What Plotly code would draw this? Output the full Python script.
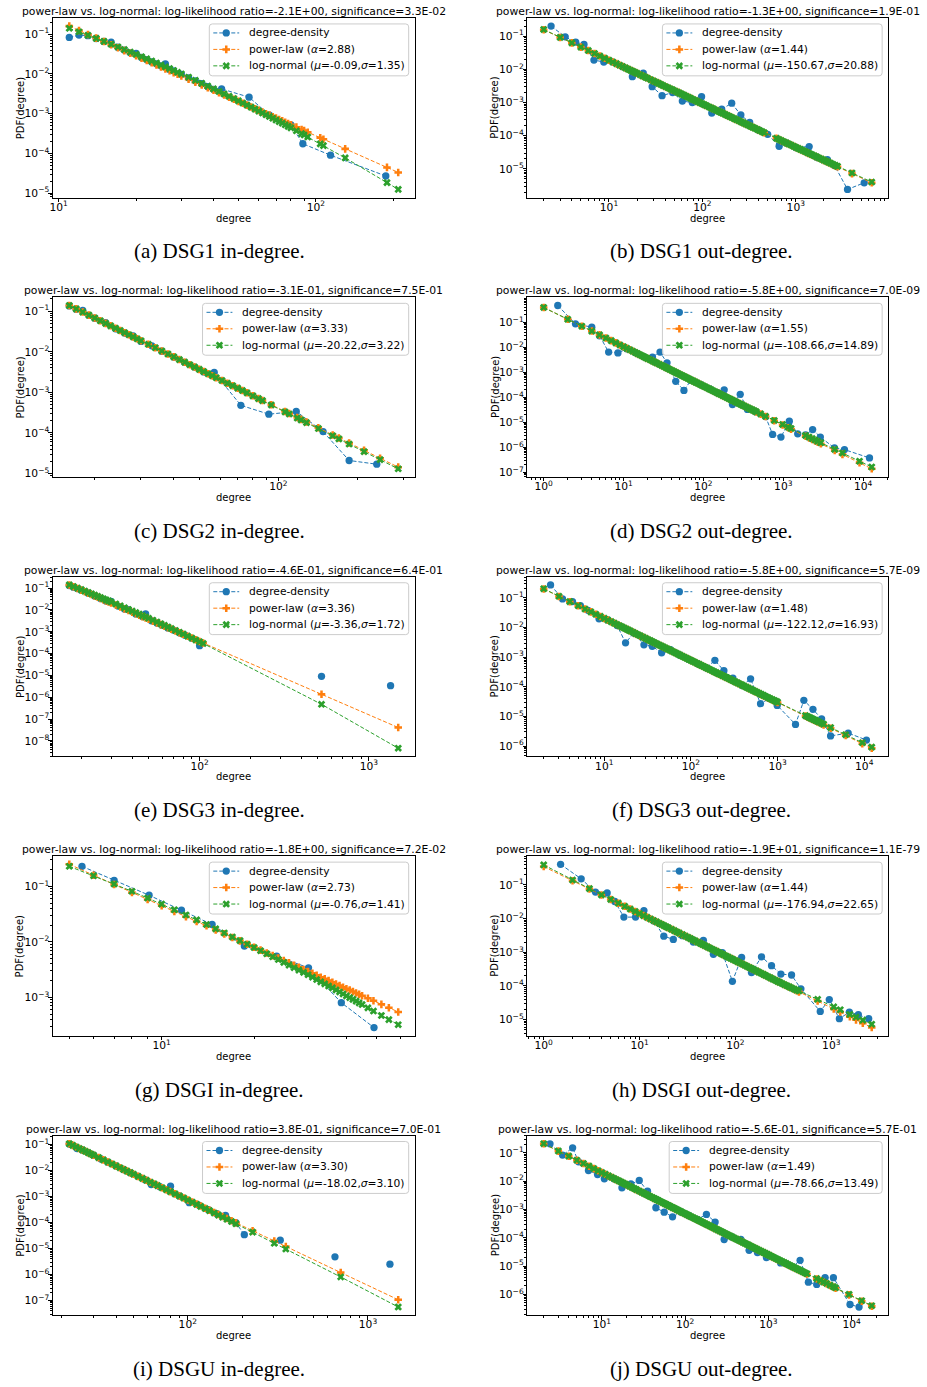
import math
import plotly.graph_objects as go

# ---------------- data ----------------
# (a) DSG1 in-degree
fit_deg_a = [11, 12, 13, 14, 15, 16, 17, 18, 19, 20, 21, 22, 23, 24, 25, 26, 27, 28, 29, 30,
             32, 34, 36, 38, 40, 42, 44, 46, 48, 50, 52, 54, 56, 58, 60, 62, 64, 66, 68, 70,
             72, 74, 76, 78, 80, 84, 88, 90, 93, 104, 107, 130, 189, 209]
pl_a = [0.160, 0.124, 0.0989, 0.0798, 0.0655, 0.0543, 0.0456, 0.0387, 0.0331, 0.0286, 0.0248, 0.0217,
        0.0191, 0.0169, 0.0150, 0.0134, 0.0120, 0.0108, 0.00980, 0.00889,
        0.00738, 0.00620, 0.00526, 0.00450, 0.00388, 0.00337, 0.00295, 0.00259, 0.00230, 0.00204,
        0.00182, 0.00164, 0.00147, 0.00133, 0.00121, 0.00110, 0.00100, 0.000918, 0.000841, 0.000774,
        0.000714, 0.000661, 0.000611, 0.000568, 0.000527,
        0.000458, 0.000401, 0.000376, 0.000342, 0.000248, 0.000228, 0.000130, 4.44e-5, 3.32e-5]
ln_a = [0.141, 0.115, 0.0944, 0.0787, 0.0661, 0.0560, 0.0478, 0.0411, 0.0356, 0.0311, 0.0272, 0.0240,
        0.0212, 0.0189, 0.0168, 0.0151, 0.0136, 0.0122, 0.0110, 0.0100,
        0.00828, 0.00692, 0.00583, 0.00494, 0.00422, 0.00362, 0.00313, 0.00272, 0.00239, 0.00210,
        0.00185, 0.00164, 0.00146, 0.00130, 0.00116, 0.00104, 0.000938, 0.000847, 0.000766, 0.000693,
        0.000631, 0.000575, 0.000524, 0.000480, 0.000440,
        0.000371, 0.000315, 0.000291, 0.000259, 0.000174, 0.000157, 7.71e-5, 1.84e-5, 1.24e-5]
deg_a = [11, 12, 13, 14, 15, 16, 17, 18, 19, 20, 21, 22, 23, 24, 25, 26, 27, 28,
         30, 32, 34, 36, 38, 40, 43, 55, 66, 80, 89, 114, 187]
dens_a = [0.083, 0.095, 0.092, 0.078, 0.066, 0.063, 0.047, 0.040, 0.034, 0.033, 0.026, 0.023, 0.020,
          0.018, 0.016, 0.018, 0.013, 0.012,
          0.0098, 0.0080, 0.0067, 0.0057, 0.0048, 0.0041, 0.0042, 0.0026, 0.00092, 0.00052, 0.000175,
          9.0e-5, 2.7e-5]

# (b) DSG1 out-degree
fit_deg_b = [2, 3, 4, 5, 6, 7, 8, 9,
             10, 11, 12, 13, 14, 15, 16, 17, 18, 19, 20,
             21.5, 23, 24.5, 26, 28, 30, 32, 34, 36, 38,
             40.5, 43, 45.5, 48, 51, 54, 57, 60, 63.5, 67,
             71, 75, 79.5, 84, 89, 94, 99.5, 105, 111, 118,
             125, 132, 140, 148, 156, 165, 175, 185, 196, 207,
             219, 232, 246, 260, 275, 290, 307, 325, 345, 365,
             387, 410, 435, 460,
             620, 660, 700, 745, 790, 840, 890, 945, 1000, 1060,
             1120, 1190, 1260, 1335, 1410, 1490, 1580, 1670, 1770, 1880,
             1990, 2110, 2230, 2360, 2500, 2650, 2800,
             4000, 6500]
pl_b = [0.155, 0.0912, 0.0625, 0.0466, 0.0367, 0.0300, 0.0251, 0.0215,
        0.0187, 0.01656, 0.0148, 0.01328, 0.0121, 0.01101, 0.0101, 0.00933, 0.00867, 0.00807, 0.00755,
        0.00687, 0.00628, 0.00578, 0.00535, 0.00485, 0.00444, 0.00407, 0.00377, 0.00349, 0.00324,
        0.00299, 0.00277, 0.00256, 0.00239, 0.00221, 0.00205, 0.00191, 0.00178, 0.00166, 0.00154,
        0.00143, 0.00133, 0.00123, 0.00115, 0.00106, 0.000988, 0.000918, 0.000855, 0.000795, 0.000733,
        0.000681, 0.000632, 0.000586, 0.000545, 0.000508, 0.000473, 0.000438, 0.000406, 0.000377, 0.000351,
        0.000326, 0.000303, 0.000280, 0.000260, 0.000242, 0.000225, 0.000209, 0.000194, 0.000179, 0.000167,
        0.000154, 0.000143, 0.000132, 0.000123,
        8.32e-5, 7.66e-5, 7.08e-5, 6.53e-5, 6.04e-5, 5.57e-5, 5.18e-5, 4.78e-5, 4.44e-5, 4.11e-5,
        3.83e-5, 3.53e-5, 3.28e-5, 3.03e-5, 2.82e-5, 2.63e-5, 2.43e-5, 2.26e-5, 2.09e-5, 1.94e-5,
        1.79e-5, 1.66e-5, 1.55e-5, 1.44e-5, 1.33e-5, 1.23e-5, 1.15e-5,
        7.18e-6, 3.80e-6]
ln_b = [0.158, 0.0915, 0.0625, 0.0466, 0.0367, 0.0300, 0.0251, 0.0215,
        0.0187, 0.01656, 0.0148, 0.01328, 0.0121, 0.01101, 0.0101, 0.00933, 0.00867, 0.00807, 0.00755,
        0.00687, 0.00628, 0.00578, 0.00535, 0.00485, 0.00444, 0.00407, 0.00377, 0.00349, 0.00324,
        0.00299, 0.00277, 0.00256, 0.00239, 0.00221, 0.00205, 0.00191, 0.00178, 0.00166, 0.00154,
        0.00143, 0.00133, 0.00123, 0.00115, 0.00106, 0.000988, 0.000918, 0.000855, 0.000795, 0.000733,
        0.000681, 0.000632, 0.000586, 0.000545, 0.000508, 0.000473, 0.000438, 0.000406, 0.000377, 0.000351,
        0.000326, 0.000303, 0.000280, 0.000260, 0.000242, 0.000225, 0.000209, 0.000194, 0.000179, 0.000167,
        0.000154, 0.000143, 0.000132, 0.000123,
        8.35e-5, 7.70e-5, 7.12e-5, 6.57e-5, 6.08e-5, 5.61e-5, 5.22e-5, 4.82e-5, 4.48e-5, 4.15e-5,
        3.87e-5, 3.57e-5, 3.32e-5, 3.07e-5, 2.86e-5, 2.67e-5, 2.47e-5, 2.30e-5, 2.13e-5, 1.98e-5,
        1.83e-5, 1.70e-5, 1.59e-5, 1.48e-5, 1.37e-5, 1.27e-5, 1.19e-5,
        7.5e-6, 4.0e-6]
deg_b = [2.4, 3.4, 4.4, 5.4, 6.9, 8.8, 11, 14, 17.8, 23.3, 29, 37, 48, 61, 78, 98, 126, 161, 206,
         258, 321, 400, 500, 663, 800, 1000, 1390, 1700, 2180, 2600, 3580, 5400]
dens_b = [0.20, 0.095, 0.066, 0.056, 0.019, 0.0166, 0.0165, 0.012, 0.0060, 0.0076, 0.0030, 0.0016,
          0.0020, 0.0011, 0.0010, 0.0015, 0.00048, 0.00063, 0.00095, 0.00042, 0.00025, 0.000148,
          0.000110, 4.8e-5, 5.9e-5, 4.4e-5, 4.7e-5, 2.2e-5, 1.9e-5, 1.26e-5, 2.4e-6, 3.8e-6]

# (c) DSG2 in-degree
fit_deg_c = [16, 17, 18, 19, 20, 21, 22, 23, 24, 25, 26, 27, 28, 29, 30, 32, 34, 36, 38, 40, 42, 44,
             46, 48, 50, 52, 54, 56, 58, 61, 64, 67, 70, 73, 76, 80, 84, 87, 94, 106, 110, 118, 122,
             128, 142, 161, 170, 186, 212, 244, 286]
pl_c = [0.138, 0.114, 0.0951, 0.0800, 0.0681, 0.0582, 0.0502, 0.0436, 0.0381, 0.0335, 0.0295, 0.0262,
        0.0233, 0.0209, 0.0187,
        0.0153, 0.0126, 0.0105, 0.00883, 0.00750, 0.00643, 0.00555, 0.00481, 0.00421, 0.00369, 0.00326,
        0.00289, 0.00258, 0.00230,
        0.00196, 0.00168, 0.00146, 0.00127, 0.00111, 0.000975,
        0.000828, 0.000710, 0.000634, 0.000497,
        0.000339, 0.000301, 0.000240, 0.000216, 0.000186, 0.000134, 8.96e-5, 7.54e-5, 5.66e-5, 3.73e-5,
        2.39e-5, 1.44e-5]
ln_c = [0.138, 0.114, 0.0951, 0.0800, 0.0681, 0.0582, 0.0502, 0.0436, 0.0381, 0.0335, 0.0295, 0.0262,
        0.0233, 0.0209, 0.0187,
        0.0153, 0.0126, 0.0105, 0.00883, 0.00750, 0.00643, 0.00555, 0.00481, 0.00421, 0.00369, 0.00326,
        0.00289, 0.00258, 0.00230,
        0.00196, 0.00168, 0.00146, 0.00127, 0.00111, 0.000973,
        0.000819, 0.000700, 0.000625, 0.000490,
        0.000331, 0.000294, 0.000234, 0.000210, 0.000180, 0.000129, 8.56e-5, 7.17e-5, 5.34e-5, 3.48e-5,
        2.21e-5, 1.31e-5]
deg_c = [16, 17, 18, 19, 20, 22, 24, 26, 28, 30, 33, 36, 40, 44, 48, 52, 57, 72, 92, 117, 148, 186, 237]
dens_c = [0.135, 0.112, 0.104, 0.079, 0.067, 0.052, 0.037, 0.029, 0.0245, 0.018, 0.014, 0.0103,
          0.0074, 0.0055, 0.0042, 0.0032, 0.0031, 0.00048, 0.00029, 0.00034, 0.000108, 2.1e-5, 1.7e-5]

# (d) DSG2 out-degree
fit_deg_d = [1, 2, 3, 4, 5, 6, 7, 8, 9,
             10, 11, 12, 13, 14, 15, 16, 17, 18, 19, 20,
             21.5, 23, 24.5, 26, 28, 30, 32, 34, 36, 38,
             40.5, 43, 45.5, 48, 51, 54, 57, 60, 63.5, 67,
             71, 75, 79.5, 84, 89, 94, 99.5, 105, 111, 118,
             125, 132, 140, 148, 156, 165, 175, 185, 196, 207,
             219, 232, 246, 260, 275, 290, 307, 325, 345, 365,
             387, 410, 435, 460,
             520, 600, 770, 980, 1150, 1250,
             1900, 2100, 2300, 2500, 2700, 2950,
             4400, 5500, 9000, 12800]
pl_d = [0.393, 0.132, 0.0700, 0.0447, 0.0315, 0.0237, 0.0186, 0.0151, 0.0125,
        0.0106, 0.00912, 0.00798, 0.00702, 0.00625, 0.00560, 0.00507, 0.00460, 0.00421, 0.00386, 0.00356,
        0.00318, 0.00286, 0.00259, 0.00236, 0.00210, 0.00189, 0.00171, 0.00155, 0.00142, 0.00130,
        0.00118, 0.00107, 0.000982, 0.000903, 0.000820, 0.000749, 0.000689, 0.000636, 0.000582, 0.000535,
        0.000488, 0.000448, 0.000409, 0.000375, 0.000342, 0.000314, 0.000287, 0.000265, 0.000242, 0.000220,
        0.000201, 0.000184, 0.000168, 0.000154, 0.000142, 0.000130, 0.000118, 0.000109, 9.91e-5, 9.10e-5,
        8.33e-5, 7.63e-5, 6.94e-5, 6.36e-5, 5.82e-5, 5.37e-5, 4.90e-5, 4.48e-5, 4.08e-5, 3.74e-5,
        3.40e-5, 3.12e-5, 2.84e-5, 2.60e-5,
        2.14e-5, 1.72e-5, 1.16e-5, 7.91e-6, 6.15e-6, 5.41e-6,
        2.80e-6, 2.39e-6, 2.07e-6, 1.82e-6, 1.62e-6, 1.40e-6,
        7.49e-7, 5.29e-7, 2.44e-7, 1.40e-7]
ln_d = [0.393, 0.132, 0.0700, 0.0447, 0.0315, 0.0237, 0.0186, 0.0151, 0.0125,
        0.0106, 0.00912, 0.00798, 0.00702, 0.00625, 0.00560, 0.00507, 0.00460, 0.00421, 0.00386, 0.00356,
        0.00318, 0.00286, 0.00259, 0.00236, 0.00210, 0.00189, 0.00171, 0.00155, 0.00142, 0.00130,
        0.00118, 0.00107, 0.000982, 0.000903, 0.000820, 0.000749, 0.000689, 0.000636, 0.000582, 0.000535,
        0.000488, 0.000448, 0.000409, 0.000375, 0.000342, 0.000314, 0.000287, 0.000265, 0.000242, 0.000220,
        0.000201, 0.000184, 0.000168, 0.000154, 0.000142, 0.000130, 0.000118, 0.000109, 9.91e-5, 9.10e-5,
        8.33e-5, 7.63e-5, 6.94e-5, 6.36e-5, 5.82e-5, 5.37e-5, 4.92e-5, 4.51e-5, 4.12e-5, 3.78e-5,
        3.44e-5, 3.16e-5, 2.89e-5, 2.65e-5,
        2.19e-5, 1.76e-5, 1.20e-5, 8.26e-6, 6.48e-6, 5.72e-6,
        3.01e-6, 2.59e-6, 2.25e-6, 1.99e-6, 1.77e-6, 1.54e-6,
        8.40e-7, 5.99e-7, 2.81e-7, 1.65e-7]
deg_d = [1.5, 2.5, 4, 5, 6.5, 8.5, 11, 14, 18, 23, 28.6, 35, 45, 57, 70, 93, 120, 150, 182, 231, 289,
         356, 450, 600, 735, 935, 1190, 1515, 1900, 2330, 2910, 4370, 5830, 12000]
dens_d = [0.47, 0.087, 0.064, 0.029, 0.0065, 0.0060, 0.00875, 0.0062, 0.0042, 0.0041, 0.0065, 0.0024,
          0.00044, 0.00019, 0.00049, 0.00032, 0.00022, 0.000154, 0.00020, 5.2e-5, 0.000133, 3.3e-5,
          2.7e-5, 1.7e-5, 3.3e-6, 2.6e-6, 1.12e-5, 3.5e-6, 3.15e-6, 5.2e-6, 2.6e-6, 9.5e-7, 8.2e-7, 3.8e-7]

# (e) DSG3 in-degree
fit_deg_e = [17, 18, 19, 20, 21, 22, 23, 24, 25, 26, 27, 28, 29, 30, 32, 34, 36, 38, 40, 42, 44, 46,
             48, 50, 53, 56, 59, 62, 65, 68, 72, 76, 80, 85, 90, 95, 100, 105, 525, 1490]
pl_e = [0.140, 0.115, 0.0959, 0.0809, 0.0686, 0.0586, 0.0506, 0.0438, 0.0382, 0.0335, 0.0295, 0.0261,
        0.0232, 0.0207,
        0.0167, 0.0136, 0.0112, 0.00935, 0.00787, 0.00668, 0.00571, 0.00492, 0.00427, 0.00372,
        0.00305, 0.00254, 0.00213, 0.00180, 0.00154, 0.00132,
        0.00109, 0.000912, 0.000767, 0.000626, 0.000516, 0.000431, 0.000362, 0.000308,
        1.38e-6, 4.14e-8]
ln_e = [0.140, 0.117, 0.0995, 0.0855, 0.0731, 0.0630, 0.0547, 0.0476, 0.0419, 0.0369, 0.0326, 0.0290,
        0.0259, 0.0232,
        0.0187, 0.0153, 0.0126, 0.0105, 0.00887, 0.00752, 0.00641, 0.00552, 0.00478, 0.00415,
        0.00339, 0.00280, 0.00233, 0.00196, 0.00166, 0.00141,
        0.00115, 0.000948, 0.000789, 0.000634, 0.000516, 0.000423, 0.000350, 0.000292,
        4.79e-7, 4.68e-9]
deg_e = [17, 18, 19, 20, 22, 24, 26, 28, 30, 33, 36, 38, 42, 46, 48, 52, 56, 60, 65, 70, 76, 82, 90,
         100, 200, 525, 900, 1343]
dens_e = [0.13, 0.11, 0.095, 0.08, 0.058, 0.043, 0.033, 0.026, 0.0245, 0.015, 0.011, 0.0104, 0.0066,
          0.0050, 0.0066, 0.0032, 0.0025, 0.0020, 0.0015, 0.0012, 0.00090, 0.0007, 0.00050, 0.000232,
          None, 9.1e-6, None, 3.4e-6]

# (f) DSG3 out-degree
fit_deg_f = [2, 3, 4, 5, 6, 7, 8, 9,
             10, 11, 12, 13, 14, 15, 16, 17, 18, 19, 20,
             21.5, 23, 24.5, 26, 28, 30, 32, 34, 36, 38,
             40.5, 43, 45.5, 48, 51, 54, 57, 60, 63.5, 67,
             71, 75, 79.5, 84, 89, 94, 99.5, 105, 111, 118,
             125, 132, 140, 148, 156, 165, 175, 185, 196, 207,
             219, 232, 246, 260, 275, 290, 307, 325, 345, 365,
             387, 410, 435, 460,
             490, 520, 550, 580, 615, 650, 690, 730, 775, 820,
             870, 920, 960, 1000,
             2100, 2200, 2300, 2400, 2500, 2620, 2750, 2870, 3000, 3200,
             3400,
             4100, 6100, 9500, 12200]
pl_f = [0.200, 0.112, 0.0746, 0.0543, 0.0420, 0.0337, 0.0279, 0.0236,
        0.0203, 0.01775, 0.0157, 0.01400, 0.0126, 0.01143, 0.0104, 0.00957, 0.00883, 0.00817, 0.00760,
        0.00686, 0.00622, 0.00570, 0.00524, 0.00471, 0.00428, 0.00390, 0.00359, 0.00330, 0.00305,
        0.00279, 0.00257, 0.00237, 0.00220, 0.00201, 0.00186, 0.00172, 0.00160, 0.00148, 0.00137,
        0.00126, 0.00116, 0.00107, 0.000993, 0.000914, 0.000845, 0.000780, 0.000723, 0.000668, 0.000612,
        0.000564, 0.000521, 0.000481, 0.000445, 0.000412, 0.000381, 0.000350, 0.000324, 0.000298, 0.000275,
        0.000255, 0.000235, 0.000216, 0.000200, 0.000185, 0.000171, 0.000158, 0.000145, 0.000134, 0.000123,
        0.000114, 0.000104, 9.62e-5, 8.87e-5,
        8.12e-5, 7.46e-5, 6.89e-5, 6.40e-5, 5.88e-5, 5.43e-5, 5.00e-5, 4.61e-5, 4.24e-5, 3.91e-5,
        3.60e-5, 3.32e-5, 3.13e-5, 2.95e-5,
        1.03e-5, 9.64e-6, 9.04e-6, 8.51e-6, 8.04e-6, 7.52e-6, 7.03e-6, 6.61e-6, 6.21e-6, 5.66e-6,
        5.20e-6,
        3.98e-6, 2.27e-6, 1.21e-6, 8.49e-7]
ln_f = [0.203, 0.113, 0.0750, 0.0545, 0.0421, 0.0338, 0.0280, 0.0237,
        0.0204, 0.01784, 0.0158, 0.01407, 0.0127, 0.01149, 0.0105, 0.00962, 0.00888, 0.00821, 0.00764,
        0.00689, 0.00625, 0.00573, 0.00527, 0.00473, 0.00430, 0.00392, 0.00361, 0.00332, 0.00306,
        0.00280, 0.00258, 0.00238, 0.00221, 0.00203, 0.00187, 0.00174, 0.00161, 0.00149, 0.00138,
        0.00127, 0.00117, 0.00108, 0.000997, 0.000923, 0.000849, 0.000788, 0.000726, 0.000675, 0.000615,
        0.000570, 0.000523, 0.000486, 0.000447, 0.000416, 0.000383, 0.000354, 0.000326, 0.000301, 0.000277,
        0.000259, 0.000237, 0.000219, 0.000202, 0.000188, 0.000173, 0.000160, 0.000147, 0.000136, 0.000125,
        0.000116, 0.000106, 9.76e-5, 9.02e-5,
        8.28e-5, 7.60e-5, 7.04e-5, 6.53e-5, 6.02e-5, 5.55e-5, 5.13e-5, 4.72e-5, 4.35e-5, 4.01e-5,
        3.70e-5, 3.41e-5, 3.22e-5, 3.04e-5,
        1.07e-5, 1.00e-5, 9.40e-6, 8.85e-6, 8.38e-6, 7.84e-6, 7.35e-6, 6.91e-6, 6.51e-6, 5.93e-6,
        5.47e-6,
        4.21e-6, 2.42e-6, 1.30e-6, 9.20e-7]
deg_f = [2.4, 3.3, 4.3, 5.3, 6.5, 8.7, 11, 14.1, 17.6, 22, 28.7, 35.8, 45.9, 58, 75, 95, 120, 150, 189,
         240, 305, 390, 488, 636, 800, 990, 1610, 2010, 2560, 3220, 4090, 6530, 10600]
dens_f = [0.274, 0.092, 0.075, 0.055, 0.038, 0.0196, 0.018, 0.0117, 0.00304, 0.0066, 0.0026, 0.00234,
          0.0014, 0.0018, 0.00116, 0.00083, 0.0006, 0.00044, 0.00078, 0.00035, 0.000195, 0.00011,
          0.000186, 2.7e-5, 4.0e-5, 2.35e-5, 5.4e-6, 3.5e-5, 1.74e-5, 8.3e-6, 2.2e-6, 2.75e-6, 1.6e-6]

# (g) DSGI in-degree
fit_deg_g = [5, 6, 7, 8, 9, 10, 11, 12, 13, 14, 15, 16, 17, 18, 19, 20, 21, 22, 23, 24, 25, 26, 27,
             28, 29, 30, 31, 32, 33, 34, 35, 36, 37, 38, 39, 40, 41, 42, 43, 44, 45, 47, 49, 52, 55, 59]
pl_g = [0.249, 0.158, 0.108, 0.0776, 0.0579, 0.0446, 0.0352, 0.0284, 0.0232, 0.0194, 0.0163, 0.0139,
        0.0120, 0.0104, 0.00906, 0.00798, 0.00708, 0.00631, 0.00564, 0.00508, 0.00459, 0.00417,
        0.00379, 0.00347, 0.00318, 0.00292, 0.00270, 0.00249, 0.00230, 0.00215, 0.00200, 0.00186,
        0.00174, 0.00163, 0.00152, 0.00143, 0.00135, 0.00127, 0.00120, 0.00113, 0.00107,
        0.000960, 0.000867, 0.000747, 0.000650, 0.000546]
ln_g = [0.229, 0.155, 0.110, 0.0813, 0.0614, 0.0478, 0.0378, 0.0304, 0.0248, 0.0205, 0.0171, 0.0144,
        0.0122, 0.0105, 0.00906, 0.00789, 0.00692, 0.00610, 0.00538, 0.00480, 0.00427, 0.00380,
        0.00342, 0.00309, 0.00281, 0.00255, 0.00231, 0.00209, 0.00190, 0.00175, 0.00160, 0.00148,
        0.00136, 0.00125, 0.00115, 0.00106, 0.000986, 0.000920, 0.000853, 0.000793, 0.000741,
        0.000646, 0.000566, 0.000471, 0.000396, 0.000321]
deg_g = [5.5, 7, 9.1, 11.6, 14.6, 18.6, 23.7, 30.1, 38.5, 49.2]
dens_g = [0.229, 0.128, 0.069, 0.037, 0.0205, 0.0084, 0.0055, 0.0034, 0.0008, 0.000285]

# (h) DSGI out-degree
fit_deg_h = [1, 2, 3, 4, 5, 6, 7, 8, 9,
             10, 11, 12, 13, 14, 15, 16, 17, 18, 19, 20,
             21.5, 23, 24.5, 26, 28, 30, 32, 34, 36, 38,
             40.5, 43, 45.5, 48, 51, 54, 57, 60, 63.5, 67,
             71, 75, 79.5, 84, 89, 94, 99.5, 105, 111, 118,
             125, 132, 140, 148, 156, 165, 175, 185, 196, 207,
             219, 232, 246, 260, 275, 290, 307, 325, 345, 365,
             387, 410, 435, 460,
             720, 1060, 1240, 1560, 1810, 2130, 2640]
pl_h = [0.347, 0.132, 0.0750, 0.0501, 0.0367, 0.0285, 0.0230, 0.0191, 0.0162,
        0.0140, 0.01222, 0.0108, 0.00968, 0.00873, 0.00793, 0.00725, 0.00667, 0.00615, 0.00570, 0.00531,
        0.00480, 0.00437, 0.00400, 0.00368, 0.00332, 0.00302, 0.00275, 0.00254, 0.00234, 0.00217,
        0.00198, 0.00183, 0.00169, 0.00157, 0.00144, 0.00133, 0.00123, 0.00115, 0.00106, 0.000984,
        0.000906, 0.000840, 0.000774, 0.000718, 0.000662, 0.000614, 0.000566, 0.000526, 0.000486, 0.000447,
        0.000412, 0.000381, 0.000352, 0.000326, 0.000303, 0.000280, 0.000258, 0.000239, 0.000220, 0.000204,
        0.000188, 0.000174, 0.000160, 0.000148, 0.000137, 0.000128, 0.000118, 0.000109, 1.00e-4, 9.25e-5,
        8.51e-5, 7.85e-5, 7.23e-5, 6.68e-5,
        3.58e-5, 2.09e-5, 1.68e-5, 1.22e-5, 9.89e-6, 7.89e-6, 5.83e-6]
ln_h = [0.389, 0.138, 0.0767, 0.0501, 0.0367, 0.0285, 0.0230, 0.0191, 0.0162,
        0.0140, 0.01222, 0.0108, 0.00968, 0.00873, 0.00793, 0.00725, 0.00667, 0.00615, 0.00570, 0.00531,
        0.00480, 0.00437, 0.00400, 0.00368, 0.00332, 0.00302, 0.00275, 0.00254, 0.00234, 0.00217,
        0.00198, 0.00183, 0.00169, 0.00157, 0.00144, 0.00133, 0.00123, 0.00115, 0.00106, 0.000984,
        0.000906, 0.000840, 0.000774, 0.000718, 0.000662, 0.000614, 0.000566, 0.000526, 0.000486, 0.000447,
        0.000412, 0.000381, 0.000352, 0.000326, 0.000303, 0.000280, 0.000258, 0.000239, 0.000220, 0.000204,
        0.000188, 0.000174, 0.000160, 0.000148, 0.000137, 0.000128, 0.000118, 0.000109, 1.01e-4, 9.40e-5,
        8.66e-5, 8.03e-5, 7.55e-5, 7.16e-5,
        4.02e-5, 2.40e-5, 1.97e-5, 1.43e-5, 1.19e-5, 9.70e-6, 7.34e-6]
deg_h = [1.5, 2.46, 3.47, 4.59, 5.52, 6.86, 9.08, 11.1, 14.1, 17.9, 22.5, 28, 36.4, 46.3, 58.9, 73,
         93, 116, 147, 187, 238, 298, 385, 482, 767, 953, 1213, 1543, 1914, 2455]
dens_h = [0.405, 0.150, 0.061, 0.057, 0.032, 0.011, 0.011, 0.0172, 0.0085, 0.0030, 0.0024, 0.0031,
          0.0020, 0.00225, 0.00087, 0.00098, 0.000137, 0.0007, 0.00025, 0.00073, 0.0004, 0.000225,
          0.000211, 8.2e-5, 1.76e-5, 3.96e-5, 1.07e-5, 1.68e-5, 1.4e-5, 1.07e-5]

# (i) DSGU in-degree
fit_deg_i = [22, 23, 24, 25, 26, 27, 28, 29, 30, 32, 34, 36, 38, 40, 42, 44, 46, 48, 50, 53, 56, 59,
             62, 65, 68, 72, 76, 80, 85, 90, 95, 100, 106, 112, 118, 125, 132, 140, 148, 156, 165,
             175, 185, 229, 302, 350, 706, 1472]
pl_i = [0.108, 0.0933, 0.0811, 0.0710, 0.0624, 0.0551, 0.0489, 0.0436, 0.0389,
        0.0315, 0.0258, 0.0214, 0.0179, 0.0151, 0.0129, 0.0110, 0.00953, 0.00830, 0.00724,
        0.00598, 0.00499, 0.00421, 0.00357, 0.00306, 0.00264,
        0.00218, 0.00183, 0.00155, 0.00127, 0.00105, 0.000878, 0.000741,
        0.000612, 0.000511, 0.000430, 0.000356, 0.000297, 0.000245, 0.000204, 0.000172, 0.000143,
        0.000118, 9.80e-5, 4.85e-5, 1.95e-5, 1.20e-5, 1.19e-6, 1.07e-7]
ln_i = [0.108, 0.0933, 0.0811, 0.0710, 0.0624, 0.0551, 0.0489, 0.0436, 0.0389,
        0.0315, 0.0258, 0.0214, 0.0179, 0.0151, 0.0129, 0.0110, 0.00953, 0.00830, 0.00724,
        0.00598, 0.00499, 0.00421, 0.00357, 0.00306, 0.00264,
        0.00218, 0.00183, 0.00155, 0.00127, 0.00105, 0.000878, 0.000733,
        0.000602, 0.000500, 0.000419, 0.000345, 0.000286, 0.000234, 0.000193, 0.000162, 0.000133,
        0.000109, 8.94e-5, 4.27e-5, 1.59e-5, 9.53e-6, 8.04e-7, 5.62e-8]
deg_i = [22, 24.3, 26, 28, 30, 33, 36, 40, 44, 48, 53, 58, 62.7, 70, 80.2, 90, 102, 115, 130, 145,
         162, 185, 206, 260, 326, 500, 656, 1000, 1324]
dens_i = [0.105, 0.070, 0.062, 0.049, 0.039, 0.028, 0.021, 0.015, 0.011, 0.0083, 0.0060, 0.0044,
          0.0029, 0.0024, 0.0025, 0.00105, 0.00058, 0.00047, 0.00031, 0.00022, 0.00019, 9.8e-5,
          3.4e-5, None, 2.1e-5, None, 4.8e-6, None, 2.5e-6]

# (j) DSGU out-degree
fit_deg_j = [2, 3, 4, 5, 6, 7, 8, 9,
             10, 11, 12, 13, 14, 15, 16, 17, 18, 19, 20,
             21.5, 23, 24.5, 26, 28, 30, 32, 34, 36, 38,
             40.5, 43, 45.5, 48, 51, 54, 57, 60, 63.5, 67,
             71, 75, 79.5, 84, 89, 94, 99.5, 105, 111, 118,
             125, 132, 140, 148, 156, 165, 175, 185, 196, 207,
             219, 232, 246, 260, 275, 290, 307, 325, 345, 365,
             387, 410, 435, 460,
             490, 520, 550, 580, 615, 650, 690, 730, 775, 820,
             870, 920, 975, 1030, 1095, 1160, 1230, 1300, 1380, 1460,
             1550, 1640, 1740, 1840, 1950, 2060, 2185, 2310, 2450, 2590,
             2745, 2900,
             3800, 4200, 4600, 5000, 5500, 6000, 6400,
             9300, 13200, 17400]
pl_j = [0.208, 0.115, 0.0759, 0.0548, 0.0421, 0.0337, 0.0277, 0.0233,
        0.0200, 0.01742, 0.0153, 0.01365, 0.0123, 0.01109, 0.0101, 0.00925, 0.00851, 0.00786, 0.00730,
        0.00657, 0.00594, 0.00543, 0.00498, 0.00447, 0.00405, 0.00368, 0.00337, 0.00310, 0.00286,
        0.00261, 0.00240, 0.00221, 0.00204, 0.00187, 0.00172, 0.00159, 0.00148, 0.00136, 0.00126,
        0.00115, 0.00107, 0.000979, 0.000906, 0.000831, 0.000767, 0.000706, 0.000653, 0.000603, 0.000551,
        0.000507, 0.000468, 0.000430, 0.000397, 0.000367, 0.000339, 0.000310, 0.000287, 0.000264, 0.000243,
        0.000224, 0.000206, 0.000189, 0.000175, 0.000161, 0.000149, 0.000137, 0.000126, 0.000116, 0.000107,
        9.79e-5, 8.99e-5, 8.26e-5, 7.60e-5,
        6.95e-5, 6.37e-5, 5.87e-5, 5.44e-5, 4.99e-5, 4.60e-5, 4.22e-5, 3.89e-5, 3.56e-5, 3.28e-5,
        3.01e-5, 2.77e-5, 2.55e-5, 2.36e-5, 2.16e-5, 1.99e-5, 1.82e-5, 1.68e-5, 1.54e-5, 1.42e-5,
        1.30e-5, 1.20e-5, 1.10e-5, 1.01e-5, 9.31e-6, 8.59e-6, 7.89e-6, 7.26e-6, 6.68e-6, 6.17e-6,
        5.66e-6, 5.23e-6,
        3.52e-6, 3.05e-6, 2.67e-6, 2.37e-6, 2.06e-6, 1.82e-6, 1.65e-6,
        9.62e-7, 5.75e-7, 3.85e-7]
ln_j = [0.210, 0.116, 0.0762, 0.0550, 0.0422, 0.0338, 0.0278, 0.0234,
        0.0201, 0.01756, 0.0154, 0.01376, 0.0124, 0.01118, 0.0102, 0.00932, 0.00855, 0.00792, 0.00733,
        0.00662, 0.00597, 0.00547, 0.00500, 0.00451, 0.00407, 0.00371, 0.00339, 0.00312, 0.00287,
        0.00263, 0.00241, 0.00223, 0.00205, 0.00188, 0.00173, 0.00160, 0.00149, 0.00137, 0.00127,
        0.00116, 0.00108, 0.000987, 0.000910, 0.000838, 0.000770, 0.000712, 0.000656, 0.000608, 0.000553,
        0.000511, 0.000470, 0.000433, 0.000399, 0.000370, 0.000340, 0.000312, 0.000288, 0.000266, 0.000244,
        0.000226, 0.000207, 0.000191, 0.000176, 0.000162, 0.000150, 0.000138, 0.000127, 0.000117, 0.000108,
        9.87e-5, 9.05e-5, 8.33e-5, 7.66e-5,
        7.02e-5, 6.42e-5, 5.93e-5, 5.49e-5, 5.04e-5, 4.65e-5, 4.27e-5, 3.93e-5, 3.60e-5, 3.32e-5,
        3.05e-5, 2.81e-5, 2.59e-5, 2.39e-5, 2.19e-5, 2.02e-5, 1.85e-5, 1.71e-5, 1.57e-5, 1.45e-5,
        1.33e-5, 1.22e-5, 1.12e-5, 1.03e-5, 9.51e-6, 8.78e-6, 8.07e-6, 7.43e-6, 6.84e-6, 6.32e-6,
        5.80e-6, 5.36e-6,
        3.62e-6, 3.14e-6, 2.75e-6, 2.44e-6, 2.13e-6, 1.88e-6, 1.71e-6,
        1.00e-6, 6.0e-7, 4.0e-7]
deg_j = [2.38, 3.37, 4.45, 5.25, 6.9, 8.87, 10.7, 14, 17.4, 22.3, 28.1, 35.3, 44.5, 56, 70.5, 90, 112,
         141, 180, 229, 294, 370, 466, 586, 738, 946, 1400, 1941, 2400, 3020, 3800, 4790, 6030, 9550, 12250]
dens_j = [0.208, 0.083, 0.150, 0.048, 0.0238, 0.0172, 0.0121, 0.0121, 0.0058, 0.0080, 0.0106, 0.0044,
          0.00115, 0.0008, 0.00055, 0.00080, 0.00060, 0.00045, 0.00067, 0.00036, 8.7e-5, 0.000105,
          8.7e-5, 3.6e-5, 3.0e-5, 2.0e-5, 1.3e-5, 9.4e-6, 1.6e-5, 2.7e-6, 2.25e-6, 3.9e-6, 3.9e-6,
          4.4e-7, 3.6e-7]

# fit parameters / test statistics (text)
alphas = ['2.88', '1.44', '3.33', '1.55', '3.36', '1.48', '2.73', '1.44', '3.30', '1.49']
mus = ['-0.09', '-150.67', '-20.22', '-108.66', '-3.36', '-122.12', '-0.76', '-176.94', '-18.02', '-78.66']
sigmas = ['1.35', '20.88', '3.22', '14.89', '1.72', '16.93', '1.41', '22.65', '3.10', '13.49']
ratios = ['-2.1E+00', '-1.3E+00', '-3.1E-01', '-5.8E+00', '-4.6E-01',
          '-5.8E+00', '-1.8E+00', '-1.9E+01', '3.8E-01', '-5.6E-01']
signifs = ['3.3E-02', '1.9E-01', '7.5E-01', '7.0E-09', '6.4E-01',
           '5.7E-09', '7.2E-02', '1.1E-79', '7.0E-01', '5.7E-01']
captions = ['(a) DSG1 in-degree.', '(b) DSG1 out-degree.', '(c) DSG2 in-degree.',
            '(d) DSG2 out-degree.', '(e) DSG3 in-degree.', '(f) DSG3 out-degree.',
            '(g) DSGI in-degree.', '(h) DSGI out-degree.', '(i) DSGU in-degree.',
            '(j) DSGU out-degree.']

degs = [deg_a, deg_b, deg_c, deg_d, deg_e, deg_f, deg_g, deg_h, deg_i, deg_j]
denss = [dens_a, dens_b, dens_c, dens_d, dens_e, dens_f, dens_g, dens_h, dens_i, dens_j]
fit_degs = [fit_deg_a, fit_deg_b, fit_deg_c, fit_deg_d, fit_deg_e, fit_deg_f, fit_deg_g, fit_deg_h,
            fit_deg_i, fit_deg_j]
pls = [pl_a, pl_b, pl_c, pl_d, pl_e, pl_f, pl_g, pl_h, pl_i, pl_j]
lns = [ln_a, ln_b, ln_c, ln_d, ln_e, ln_f, ln_g, ln_h, ln_i, ln_j]

for _k in range(10):
    assert len(degs[_k]) == len(denss[_k]), ('density length', _k)
    assert len(fit_degs[_k]) == len(pls[_k]) == len(lns[_k]), ('fit length', _k)

# ---------------- layout geometry (pixels) ----------------
W, H = 927, 1387
COL_X = [(50, 413), (526, 888)]
ROW_Y = [(18, 198), (298, 478), (578, 758), (858, 1038), (1138, 1318)]
CAP_X = [217, 701]
CAP_Y = [252, 532, 812, 1092, 1372]

BLUE, ORANGE, GREEN = '#1f77b4', '#ff7f0e', '#2ca02c'
SANS = 'DejaVu Sans'
SERIF = 'Liberation Serif'
MINUS = '\u2212'
LEG_FS = 10.7
DASH = '4px,2px'

# DejaVu Sans advance widths (1/2048 em) used to size the hand-drawn legend boxes
CHAR_W = {' ': 651, '(': 799, ')': 799, '-': 739, '=': 1716, '.': 651, ',': 651,
          'a': 1255, 'c': 1126, 'd': 1300, 'e': 1260, 'f': 721, 'g': 1300, 'h': 1298,
          'i': 569, 'k': 1186, 'l': 569, 'm': 1995, 'n': 1298, 'o': 1253, 'p': 1300,
          'r': 842, 's': 1067, 't': 803, 'w': 1675, 'y': 1212,
          '\u03b1': 1300, '\u03bc': 1300, '\u03c3': 1300}


def text_width(s, size):
    return sum(CHAR_W.get(ch, 1303) for ch in s) / 2048.0 * size


def sup(e):
    return '10<sup>%s</sup>' % ((MINUS + str(-e)) if e < 0 else str(e))


def log_range(seqs):
    v = [math.log10(y) for s in seqs for y in s if y is not None and y > 0]
    lo, hi = min(v), max(v)
    pad = 0.05 * (hi - lo)
    return [lo - pad, hi + pad]


def tick_setup(lo, hi):
    major = [e for e in range(math.floor(lo), math.ceil(hi) + 1) if lo <= e <= hi]
    minor = []
    for e in range(math.floor(lo) - 1, math.ceil(hi) + 1):
        for m in range(2, 10):
            lv = e + math.log10(m)
            if lo <= lv <= hi:
                minor.append(m * 10.0 ** e)
    return [10.0 ** e for e in major], [sup(e) for e in major], minor


def px(xp):
    return xp / W


def py(yp):
    return 1 - yp / H


def path_from(pts):
    return 'M' + 'L'.join('%.6f,%.6f' % (px(x), py(y)) for x, y in pts) + 'Z'


def rounded_rect(x0, y0, x1, y1, r):
    def P(x, y):
        return '%.6f,%.6f' % (px(x), py(y))
    return ('M' + P(x0 + r, y0) + 'L' + P(x1 - r, y0) + 'Q' + P(x1, y0) + ' ' + P(x1, y0 + r) +
            'L' + P(x1, y1 - r) + 'Q' + P(x1, y1) + ' ' + P(x1 - r, y1) +
            'L' + P(x0 + r, y1) + 'Q' + P(x0, y1) + ' ' + P(x0, y1 - r) +
            'L' + P(x0, y0 + r) + 'Q' + P(x0, y0) + ' ' + P(x0 + r, y0) + 'Z')


def plus_pts(cx, cy, r):
    a, b = 0.4 * r, 1.2 * r
    rel = [(b, a), (a, a), (a, b), (-a, b), (-a, a), (-b, a), (-b, -a), (-a, -a), (-a, -b),
           (a, -b), (a, -a), (b, -a)]
    return [(cx + dx, cy + dy) for dx, dy in rel]


def x_pts(cx, cy, r):
    q = r * 0.8 / math.sqrt(2)
    rel = [(0, q), (q, 2 * q), (2 * q, q), (q, 0), (2 * q, -q), (q, -2 * q), (0, -q), (-q, -2 * q),
           (-2 * q, -q), (-q, 0), (-2 * q, q), (-q, 2 * q)]
    return [(cx + dx, cy + dy) for dx, dy in rel]


BLUE_SIZE, ORANGE_SIZE, GREEN_SIZE = 7.3, 6.3, 6.7

fig = go.Figure()
layout = dict(width=W, height=H, margin=dict(l=0, r=0, t=0, b=0),
              paper_bgcolor='white', plot_bgcolor='white', showlegend=False)
annotations = []
shapes = []

for i in range(10):
    r, c = divmod(i, 2)
    x0, x1 = COL_X[c]
    y0, y1 = ROW_Y[r]
    n = '' if i == 0 else str(i + 1)
    xa, ya = 'x' + n, 'y' + n

    name_pl = 'power-law (<i>\u03b1</i>=%s)' % alphas[i]
    name_ln = 'log-normal (<i>\u03bc</i>=%s,<i>\u03c3</i>=%s)' % (mus[i], sigmas[i])

    fig.add_trace(go.Scatter(
        x=degs[i], y=denss[i], mode='lines+markers', name='degree-density',
        line=dict(color=BLUE, width=1, dash=DASH),
        marker=dict(symbol='circle', size=BLUE_SIZE, color=BLUE),
        xaxis=xa, yaxis=ya, connectgaps=False, showlegend=False))
    fig.add_trace(go.Scatter(
        x=fit_degs[i], y=pls[i], mode='lines+markers', name=name_pl,
        line=dict(color=ORANGE, width=1, dash=DASH),
        marker=dict(symbol='cross', size=ORANGE_SIZE, color=ORANGE),
        xaxis=xa, yaxis=ya, showlegend=False))
    fig.add_trace(go.Scatter(
        x=fit_degs[i], y=lns[i], mode='lines+markers', name=name_ln,
        line=dict(color=GREEN, width=1, dash=DASH),
        marker=dict(symbol='x', size=GREEN_SIZE, color=GREEN),
        xaxis=xa, yaxis=ya, showlegend=False))

    xr = log_range([degs[i], fit_degs[i]])
    yr = log_range([denss[i], pls[i], lns[i]])
    common = dict(type='log', showline=True, linecolor='black', linewidth=1, mirror=True,
                  showgrid=False, zeroline=False, ticks='outside', ticklen=3.5, tickwidth=1,
                  tickcolor='black', tickfont=dict(family=SANS, size=10.7, color='black'),
                  tickmode='array')
    xv, xt, xm = tick_setup(*xr)
    yv, yt, ym = tick_setup(*yr)
    layout['xaxis' + n] = dict(common, domain=[px(x0), px(x1)], anchor=ya, range=xr,
                               tickvals=xv, ticktext=xt, ticklabelstandoff=-4,
                               minor=dict(tickmode='array', tickvals=xm, ticks='outside', ticklen=2,
                                          tickwidth=0.8, tickcolor='black', showgrid=False))
    layout['yaxis' + n] = dict(common, domain=[py(y1), py(y0)], anchor=xa, range=yr,
                               tickvals=yv, ticktext=yt, ticklabelstandoff=-3,
                               minor=dict(tickmode='array', tickvals=ym, ticks='outside', ticklen=2,
                                          tickwidth=0.8, tickcolor='black', showgrid=False))

    # ---- legend (drawn by hand so that its spacing follows the reference) ----
    plain = ['degree-density', 'power-law (\u03b1=%s)' % alphas[i],
             'log-normal (\u03bc=%s,\u03c3=%s)' % (mus[i], sigmas[i])]
    html = ['degree-density', name_pl, name_ln]
    tw = max(text_width(t, LEG_FS) for t in plain)
    bx1 = x1 - 6
    by0 = y0 + 6
    bx0 = bx1 - (4 + 26 + 9 + tw + 5)
    by1 = by0 + 52
    shapes.append(dict(type='path', xref='paper', yref='paper',
                       path=rounded_rect(bx0, by0, bx1, by1, 3),
                       fillcolor='rgba(255,255,255,0.8)', line=dict(color='#cccccc', width=1)))
    colors = [BLUE, ORANGE, GREEN]
    for k, cy in enumerate([by0 + 9, by0 + 25.5, by0 + 42]):
        shapes.append(dict(type='line', xref='paper', yref='paper',
                           x0=px(bx0 + 4), x1=px(bx0 + 30), y0=py(cy), y1=py(cy),
                           line=dict(color=colors[k], width=1, dash=DASH)))
        mx = bx0 + 17
        if k == 0:
            rr = BLUE_SIZE / 2
            shapes.append(dict(type='circle', xref='paper', yref='paper',
                               x0=px(mx - rr), x1=px(mx + rr), y0=py(cy + rr), y1=py(cy - rr),
                               fillcolor=BLUE, line=dict(width=0)))
        elif k == 1:
            shapes.append(dict(type='path', xref='paper', yref='paper',
                               path=path_from(plus_pts(mx, cy, ORANGE_SIZE / 2)),
                               fillcolor=ORANGE, line=dict(width=0)))
        else:
            shapes.append(dict(type='path', xref='paper', yref='paper',
                               path=path_from(x_pts(mx, cy, GREEN_SIZE / 2)),
                               fillcolor=GREEN, line=dict(width=0)))
        annotations.append(dict(
            text=html[k], x=px(bx0 + 38), y=py(cy), xref='paper', yref='paper',
            xanchor='left', yanchor='middle', showarrow=False,
            font=dict(family=SANS, size=LEG_FS, color='black')))

    annotations.append(dict(
        text='power-law vs. log-normal: log-likelihood ratio=%s, significance=%s' % (ratios[i], signifs[i]),
        x=px((x0 + x1) / 2), y=py(y0 - 6.5), xref='paper', yref='paper', xanchor='center',
        yanchor='middle', showarrow=False, font=dict(family=SANS, size=10.8, color='black')))
    annotations.append(dict(
        text='degree', x=px((x0 + x1) / 2), y=py(y1 + 20.5), xref='paper', yref='paper',
        xanchor='center', yanchor='middle', showarrow=False,
        font=dict(family=SANS, size=10, color='black')))
    annotations.append(dict(
        text='PDF(degree)', x=px(x0 - 32.5), y=py((y0 + y1) / 2), xref='paper', yref='paper',
        xanchor='center', yanchor='middle', showarrow=False, textangle=-90,
        font=dict(family=SANS, size=10, color='black')))
    annotations.append(dict(
        text=captions[i], x=px(CAP_X[c]), y=py(CAP_Y[r]), xref='paper', yref='paper',
        xanchor='center', yanchor='middle', showarrow=False,
        font=dict(family=SERIF, size=21, color='black')))

layout['annotations'] = annotations
layout['shapes'] = shapes
fig.update_layout(**layout)
fig.write_html('out.html', config={'displayModeBar': False})
